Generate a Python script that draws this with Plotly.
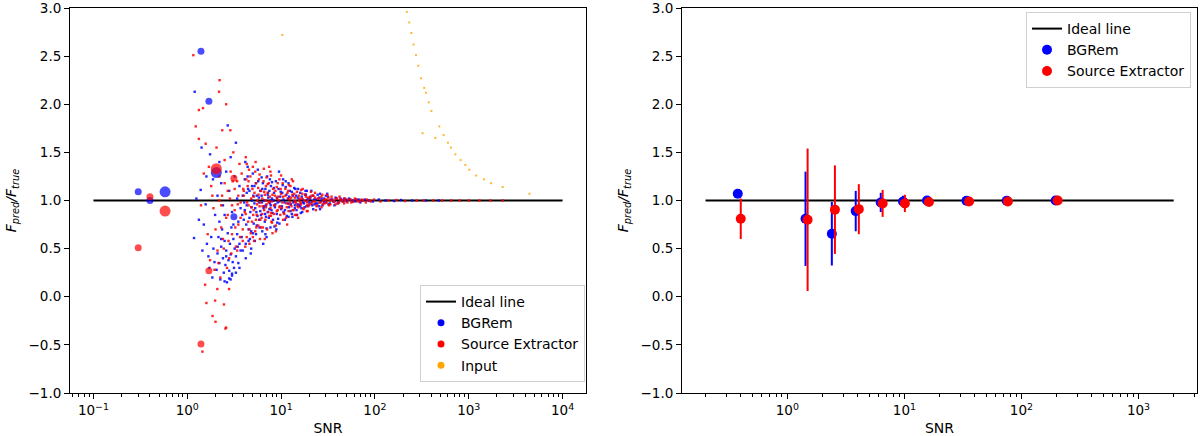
import plotly.graph_objects as go

# ---------------- data: left panel ----------------
ideal_left_x = [0.1, 10000]
ideal_left_y = [1.0, 1.0]
ideal_right_x = [0.2, 2000]
ideal_right_y = [1.0, 1.0]

# individual sources, BGRem
bg_snr = [1.2, 1.18, 1.33, 1.39, 1.57, 1.25, 1.45, 1.5, 1.62, 1.68, 1.72, 1.8, 1.85, 1.9, 1.95, 1.75, 1.88, 1.98, 1.6, 1.42,
          2.05, 2.1, 2.15, 2.2, 2.25, 2.3, 2.35, 2.4, 2.45, 2.5, 2.55, 2.6, 2.65, 2.7, 2.75, 2.8, 2.85, 2.9, 2.95, 3.0,
          3.05, 3.1, 3.15, 3.2, 3.3, 3.4, 3.5, 3.6, 3.7, 2.2, 2.5, 2.8, 3.0,
          2.1, 2.3, 2.4, 2.6, 2.8, 3.0, 3.2, 3.4, 2.2, 2.9, 2.7, 3.3, 2.5, 3.5, 3.6, 3.7,
          3.8, 3.9, 4.0, 4.1, 4.2, 4.3, 4.4, 4.5, 4.6, 4.7, 4.8, 4.9, 5.0, 5.1, 5.2, 5.3, 5.4, 5.5, 5.6, 5.7, 5.8, 5.9, 6.0,
          3.85, 4.05, 4.25, 4.45, 4.65, 4.85, 5.05, 5.25, 5.45, 5.65, 5.85, 4.15, 4.75,
          6.1, 6.2, 6.3, 6.4, 6.5, 6.6, 6.7, 6.8, 6.9, 7.0, 7.1, 7.2, 7.3, 7.4, 7.5, 7.6, 7.7, 7.8, 7.9, 8.0,
          8.2, 8.4, 8.6, 8.8, 9.0, 9.2, 9.4, 9.6, 9.8, 10.0, 6.25, 6.75, 7.25, 7.75, 8.3, 8.9, 9.5, 6.45,
          10.3, 10.6, 10.9, 11.2, 11.5, 11.8, 12.1, 12.4, 12.7, 13.0, 13.4, 13.8, 14.2, 14.6, 15.0, 15.5, 16.0, 16.5,
          17.0, 17.5, 18.0, 18.6, 19.2, 19.8, 10.5, 11.0, 12.0, 13.2, 14.0, 15.2, 16.8, 18.2,
          20.5, 21.5, 22.5, 23.5, 24.5, 25.5, 27, 28.5, 30, 32, 34, 36, 38, 40, 43, 46, 49, 21, 26, 31, 37,
          53, 58, 63, 70, 78, 86, 95, 110, 130, 160, 190, 250, 350, 480]
bg_ratio = [2.13, 0.61, 0.80, 1.11, 0.96, 1.02, 0.48, 0.75, 0.55, 0.42, 0.30, 0.62, 0.20, 0.50, 0.36, 1.48, 1.22, 0.85, 1.25, 1.55,
            0.28, 0.45, 0.62, 0.35, 0.18, 0.52, 0.70, 0.40, 0.25, 0.58, 0.33, 0.48, 0.15, 0.66, 0.38, 0.27, 0.55, 0.44, 0.72, 0.22,
            0.36, 0.60, 0.30, 0.50, 0.42, 0.65, 0.35, 0.55, 0.48, 0.78, 0.16, 0.19, 0.24,
            1.05, 1.18, 0.95, 1.30, 1.10, 0.88, 1.25, 1.02, 1.40, 1.45, 1.78, 1.60, 0.85, 0.78, 1.15, 0.92,
            0.62, 1.05, 0.80, 1.22, 0.55, 0.95, 1.35, 0.70, 1.10, 0.88, 0.50, 1.00, 1.28, 0.76, 1.15, 0.92, 0.65, 1.05, 0.84, 1.20, 0.98, 0.72, 1.10,
            0.85, 0.98, 0.75, 1.12, 0.60, 0.93, 1.05, 0.58, 0.88, 1.32, 0.80, 1.40, 0.45,
            0.85, 1.05, 0.68, 1.18, 0.92, 1.00, 0.78, 1.12, 0.95, 0.62, 1.25, 0.88, 1.03, 0.82, 1.10, 0.97, 0.72, 1.15, 0.90, 1.02,
            0.80, 1.08, 0.93, 1.20, 0.86, 0.98, 1.12, 0.76, 1.04, 0.91, 0.98, 0.86, 1.08, 0.95, 1.00, 0.70, 1.30, 0.55,
            1.08, 0.88, 0.98, 1.14, 0.84, 1.02, 0.93, 1.10, 0.96, 0.86, 1.05, 0.99, 1.12, 0.90, 1.03, 0.95, 1.08, 0.92,
            1.01, 0.97, 1.06, 0.94, 1.02, 0.98, 1.22, 0.80, 1.18, 0.83, 0.95, 1.12, 0.88, 1.10,
            1.04, 0.95, 1.01, 0.97, 1.06, 0.94, 1.02, 0.98, 1.05, 0.96, 1.01, 0.99, 1.03, 0.97, 1.02, 0.99, 1.01, 1.10, 0.91, 1.07, 0.95,
            1.02, 0.99, 1.01, 0.98, 1.01, 1.00, 0.99, 1.01, 1.00, 0.995, 1.005, 1.0, 1.0, 1.0]

# extra BGRem sources in the dense core
bg_core_snr = [4.1, 4.3, 4.6, 4.9, 5.2, 5.5, 5.8, 6.0, 6.3, 6.6, 6.9, 7.2, 7.5, 7.8, 8.1, 8.4, 8.7, 9.0, 9.3, 9.6, 9.9,
               10.2, 10.6, 11.0, 11.4, 11.8, 12.2, 12.6, 13.0, 13.5, 14.0, 14.5, 15.0, 15.5, 16.0, 16.6, 17.2, 17.8, 18.4, 19.0, 19.7,
               20.4, 21.1, 21.9, 22.7, 23.6, 24.5, 25.5, 26.5, 27.6, 28.7, 30, 31.5, 33, 35, 37, 39, 41, 44, 47, 50, 54, 58, 62, 67, 73,
               5.0, 6.2, 7.0, 8.0, 9.1, 10.4, 12.0, 13.8, 16.2, 18.8, 22.0, 26.0,
               4.4, 4.8, 5.4, 6.8, 7.6, 8.5, 11.2, 14.8, 3.9, 4.2, 4.5, 3.6, 3.3, 2.9, 2.6, 2.3, 3.1, 3.45]
bg_core_ratio = [0.90, 1.08, 0.82, 1.15, 0.97, 0.74, 1.03, 0.89, 1.12, 0.94, 0.83, 1.06, 0.91, 1.00, 0.87, 1.13, 0.96, 1.03, 0.81, 0.99, 1.09,
                 0.94, 1.01, 0.90, 1.06, 0.97, 1.04, 0.89, 1.09, 0.98, 0.92, 1.05, 0.96, 1.01, 0.94, 1.04, 0.98, 0.93, 1.06, 1.00, 0.95,
                 1.02, 0.98, 1.05, 0.96, 1.01, 0.97, 1.03, 0.99, 0.95, 1.02, 0.98, 1.04, 0.97, 1.01, 0.99, 1.02, 0.98, 1.00, 1.02, 0.99, 1.01, 1.00, 0.99, 1.01, 1.00,
                 0.66, 1.24, 0.71, 1.19, 0.77, 1.16, 0.83, 1.13, 0.87, 1.10, 0.91, 1.07,
                 1.25, 0.68, 1.18, 0.65, 1.22, 0.73, 1.20, 0.85, 0.48, 0.40, 0.58, 0.30, 0.25, 0.18, 0.42, 0.60, 0.75, 0.52]

# individual sources, Source Extractor
se_snr = [1.16, 2.21, 2.18, 2.6, 1.33, 1.47, 1.23, 1.33, 1.57, 2.36, 2.88, 1.55, 1.6, 1.98, 2.46, 1.86, 2.0, 2.55, 2.09, 2.79, 1.45, 2.6,
          1.7, 1.8, 1.9, 2.0, 2.1, 2.2, 2.3, 2.4, 2.5, 2.6, 2.7, 2.8, 2.9, 3.0, 3.1, 3.2, 3.3, 3.4, 3.5, 3.6, 3.7,
          1.65, 1.75, 1.85, 1.95, 2.05, 2.15, 2.25, 2.35, 2.45, 2.65, 2.75, 2.85, 2.95, 3.05, 3.25, 3.45, 3.65, 1.5, 1.4,
          3.8, 3.9, 4.0, 4.1, 4.2, 4.3, 4.4, 4.5, 4.6, 4.7, 4.8, 4.9, 5.0, 5.1, 5.2, 5.3, 5.4, 5.5, 5.6, 5.7, 5.8, 5.9, 6.0,
          3.95, 4.15, 4.35, 4.55, 4.75, 4.95, 5.15, 5.35, 5.55, 5.75, 5.95, 4.45, 5.05, 4.25, 5.45,
          6.1, 6.2, 6.3, 6.4, 6.5, 6.6, 6.7, 6.8, 6.9, 7.0, 7.1, 7.2, 7.3, 7.4, 7.5, 7.6, 7.7, 7.8, 7.9, 8.0,
          8.2, 8.4, 8.6, 8.8, 9.0, 9.2, 9.4, 9.6, 9.8, 10.0, 6.35, 6.85, 7.35, 7.85, 8.5, 9.1, 9.7, 6.55, 8.1, 7.45,
          10.2, 10.5, 10.8, 11.1, 11.4, 11.7, 12.0, 12.3, 12.6, 12.9, 13.2, 13.6, 14.0, 14.4, 14.8, 15.3, 15.8, 16.3,
          16.8, 17.3, 17.8, 18.4, 19.0, 19.6, 10.4, 11.3, 12.5, 13.4, 14.6, 15.6, 17.0, 18.8, 11.9, 13.9, 16.1, 19.3,
          20.3, 21.2, 22.1, 23.0, 24.0, 25.0, 26.2, 27.5, 29, 30.5, 32.5, 34.5, 36.5, 39, 41.5, 44, 47, 20.8, 23.5, 28, 33, 38, 42, 48,
          52, 56, 61, 66, 72, 80, 88, 98, 115, 140, 170, 210, 280, 330, 420, 520, 650, 800, 1000, 1300, 1700, 2300]
se_ratio = [2.51, 2.25, 2.13, 2.00, 1.94, 1.96, 1.77, 1.64, 1.59, 1.73, 1.73, 0.125, -0.065, -0.04, -0.08, -0.20, -0.26, -0.33, 0.08, 0.08, -0.57, -0.32,
            1.35, 1.15, 0.92, 0.70, 0.48, 1.25, 0.95, 0.60, 1.42, 0.82, 1.10, 0.40, 1.30, 0.65, 1.50, 0.90, 0.52, 1.20, 0.75, 1.38, 0.98,
            0.65, 0.38, 1.05, 0.28, 1.55, 0.35, 0.20, 1.05, 0.50, 0.30, 0.58, 1.02, 0.45, 1.20, 0.72, 0.96, 0.62, 1.28, 0.95,
            1.28, 0.70, 1.05, 0.88, 1.45, 0.62, 1.15, 0.95, 0.55, 1.25, 1.02, 0.78, 1.35, 0.90, 1.08, 0.68, 1.18, 0.85, 1.00, 0.74, 1.22, 0.94, 0.80,
            1.12, 0.52, 0.98, 1.32, 0.66, 1.12, 0.58, 1.40, 0.96, 1.06, 0.60, 0.78, 0.85, 1.22, 0.72,
            1.10, 0.82, 1.02, 0.72, 1.20, 0.90, 1.06, 0.80, 1.15, 0.96, 0.70, 1.08, 0.88, 1.18, 0.84, 1.04, 0.92, 1.26, 0.78, 0.99,
            1.12, 0.86, 1.05, 0.74, 1.14, 0.90, 1.00, 1.22, 0.85, 1.07, 0.94, 1.00, 0.98, 0.87, 0.95, 1.02, 0.94, 1.33, 0.66, 1.35,
            0.92, 1.04, 0.86, 1.12, 0.97, 1.08, 0.89, 1.01, 1.15, 0.94, 1.06, 0.90, 1.03, 0.97, 1.09, 0.93, 1.02, 0.96,
            1.07, 0.91, 1.00, 1.04, 0.95, 1.03, 1.18, 0.82, 0.98, 1.20, 0.85, 1.00, 1.12, 0.89, 1.02, 0.99, 0.98, 1.00,
            0.96, 1.05, 0.99, 1.03, 0.94, 1.02, 0.98, 1.06, 0.97, 1.01, 0.95, 1.04, 0.99, 1.02, 0.98, 1.01, 0.97, 1.09, 0.90, 1.00, 1.00, 0.96, 1.04, 1.00,
            1.01, 0.98, 1.02, 0.99, 1.01, 0.98, 1.00, 1.01, 0.99, 1.00, 1.005, 0.995, 1.0, 1.0, 1.0, 1.0, 1.0, 1.0, 1.0, 1.0, 1.0, 1.0]

# extra Source Extractor sources in the dense core
se_core_snr = [4.0, 4.2, 4.5, 4.8, 5.1, 5.4, 5.7, 6.0, 6.3, 6.6, 6.9, 7.2, 7.5, 7.8, 8.1, 8.4, 8.7, 9.0, 9.3, 9.6, 9.9,
               10.3, 10.7, 11.1, 11.5, 11.9, 12.3, 12.8, 13.3, 13.8, 14.3, 14.9, 15.5, 16.1, 16.7, 17.4, 18.1, 18.8, 19.5,
               20.3, 21.1, 22.0, 22.9, 23.8, 24.8, 25.8, 26.9, 28.0, 29.3, 30.6, 32, 33.5, 35, 36.7, 38.5, 40.5, 42.5, 45, 48,
               51, 55, 59, 64, 69, 75, 82, 90,
               4.6, 5.3, 6.1, 7.0, 8.0, 9.2, 10.5, 12.1, 14.0, 16.4, 19.2, 23.0, 27.0, 31.0,
               4.3, 5.0, 5.9, 6.7, 7.7, 8.8, 10.0, 11.6, 13.0, 15.2, 3.9, 3.5, 3.2, 3.0, 2.7, 2.5, 2.3, 2.2, 3.4, 3.7]
se_core_ratio = [1.10, 0.86, 1.20, 0.93, 1.04, 0.80, 1.13, 0.98, 0.86, 1.09, 0.93, 1.17, 0.99, 0.84, 1.06, 0.95, 1.10, 0.89, 1.04, 0.93, 1.12,
                 0.98, 0.87, 1.05, 0.93, 1.10, 0.96, 1.03, 0.90, 1.07, 0.99, 0.94, 1.05, 0.97, 1.02, 0.92, 1.06, 0.98, 0.94,
                 1.03, 0.97, 1.05, 0.99, 0.95, 1.02, 0.98, 1.04, 0.96, 1.01, 0.98, 1.03, 0.96, 1.01, 0.99, 1.02, 0.97, 1.01, 0.99, 1.02,
                 0.98, 1.01, 0.99, 1.01, 0.99, 1.00, 1.01, 0.99,
                 0.70, 1.30, 0.72, 1.24, 0.77, 1.18, 0.80, 1.16, 0.85, 1.11, 0.89, 1.08, 0.93, 1.06,
                 1.38, 0.62, 1.27, 0.60, 1.30, 0.68, 1.26, 0.75, 1.22, 0.82, 0.58, 1.05, 1.12, 0.95, 0.85, 1.18, 0.72, 1.00, 0.48, 0.82]

# binned (large) markers on the left panel
bg_bin_snr = [0.30, 0.40, 0.58, 1.40, 1.70, 2.04, 3.14]
bg_bin_ratio = [1.09, 1.00, 1.09, 2.55, 2.03, 1.29, 0.83]
bg_bin_size = [7, 7, 11, 7, 7, 11, 7]
se_bin_snr = [0.30, 0.40, 0.58, 1.40, 1.70, 2.04, 3.14]
se_bin_ratio = [0.51, 1.04, 0.89, -0.49, 0.27, 1.33, 1.23]
se_bin_size = [7, 7, 11, 7, 7, 11, 7]

# input
in_snr = [10.3, 219, 232, 245, 258, 274, 290, 310, 322, 335, 350, 375, 400, 440, 486, 540, 600, 647, 720, 820, 920, 1014, 1200, 1450, 1730, 2300, 4440]
in_ratio = [2.72, 2.96, 2.85, 2.74, 2.62, 2.51, 2.40, 2.27, 1.70, 2.17, 2.12, 2.02, 1.93, 1.65, 1.77, 1.68, 1.60, 1.55, 1.48, 1.42, 1.37, 1.32, 1.26, 1.22, 1.18, 1.14, 1.07]

# ---------------- data: right panel ----------------
bg_mean_snr = [0.377, 1.43, 2.40, 3.84, 6.28, 9.73, 15.6, 33.9, 74.8, 196]
bg_mean_ratio = [1.07, 0.81, 0.655, 0.89, 0.98, 0.99, 1.00, 0.997, 0.997, 1.00]
bg_mean_err = [0.0, 0.49, 0.33, 0.21, 0.10, 0.06, 0.02, 0.01, 0.01, 0.005]
se_mean_snr = [0.40, 1.49, 2.55, 4.08, 6.52, 10.1, 16.2, 35.7, 76.6, 204]
se_mean_ratio = [0.81, 0.80, 0.905, 0.91, 0.97, 0.97, 0.985, 0.99, 0.99, 1.00]
se_mean_err = [0.21, 0.74, 0.46, 0.26, 0.14, 0.09, 0.03, 0.015, 0.01, 0.005]

x_tick_vals_left = [0.1, 1, 10, 100, 1000, 10000]
x_tick_text_left = ["10<sup>−1</sup>", "10<sup>0</sup>", "10<sup>1</sup>", "10<sup>2</sup>", "10<sup>3</sup>", "10<sup>4</sup>"]
x_tick_vals_right = [1, 10, 100, 1000]
x_tick_text_right = ["10<sup>0</sup>", "10<sup>1</sup>", "10<sup>2</sup>", "10<sup>3</sup>"]
y_tick_vals = [-1.0, -0.5, 0.0, 0.5, 1.0, 1.5, 2.0, 2.5, 3.0]
y_tick_text = ["−1.0", "−0.5", "0.0", "0.5", "1.0", "1.5", "2.0", "2.5", "3.0"]

BLUE = "#0000ff"
RED = "#ff0000"
ORANGE = "#ffa500"
FONT = "DejaVu Sans"

fig = go.Figure()

# ---- left panel ----
fig.add_trace(go.Scatter(x=ideal_left_x, y=ideal_left_y, mode="lines", name="Ideal line",
                         line=dict(color="black", width=2), xaxis="x", yaxis="y", legend="legend"))
fig.add_trace(go.Scatter(x=bg_snr + bg_core_snr, y=bg_ratio + bg_core_ratio, mode="markers", showlegend=False,
                         marker=dict(color=BLUE, size=2.4, symbol="square", opacity=0.85, line=dict(width=0)),
                         xaxis="x", yaxis="y"))
fig.add_trace(go.Scatter(x=se_snr + se_core_snr, y=se_ratio + se_core_ratio, mode="markers", showlegend=False,
                         marker=dict(color=RED, size=2.4, symbol="square", opacity=0.85, line=dict(width=0)),
                         xaxis="x", yaxis="y"))
fig.add_trace(go.Scatter(x=in_snr, y=in_ratio, mode="markers", showlegend=False,
                         marker=dict(color=ORANGE, size=2.0, symbol="square", opacity=0.8, line=dict(width=0)),
                         xaxis="x", yaxis="y"))
fig.add_trace(go.Scatter(x=bg_bin_snr, y=bg_bin_ratio, mode="markers", showlegend=False,
                         marker=dict(color=BLUE, size=bg_bin_size, line=dict(width=0)), xaxis="x", yaxis="y"))
fig.add_trace(go.Scatter(x=se_bin_snr, y=se_bin_ratio, mode="markers", showlegend=False,
                         marker=dict(color=RED, size=se_bin_size, line=dict(width=0)), xaxis="x", yaxis="y"))
# legend entries (left)
for nm, col in [("BGRem", BLUE), ("Source Extractor", RED), ("Input", ORANGE)]:
    fig.add_trace(go.Scatter(x=[None], y=[None], mode="markers", name=nm,
                             marker=dict(color=col, size=7), xaxis="x", yaxis="y", legend="legend"))

# ---- right panel ----
fig.add_trace(go.Scatter(x=ideal_right_x, y=ideal_right_y, mode="lines", name="Ideal line",
                         line=dict(color="black", width=2), xaxis="x2", yaxis="y2", legend="legend2"))
fig.add_trace(go.Scatter(x=bg_mean_snr, y=bg_mean_ratio, mode="markers", name="BGRem",
                         marker=dict(color=BLUE, size=10, line=dict(width=0)),
                         error_y=dict(type="data", array=bg_mean_err, color=BLUE, thickness=2, width=0),
                         xaxis="x2", yaxis="y2", legend="legend2"))
fig.add_trace(go.Scatter(x=se_mean_snr, y=se_mean_ratio, mode="markers", name="Source Extractor",
                         marker=dict(color=RED, size=10, line=dict(width=0)),
                         error_y=dict(type="data", array=se_mean_err, color=RED, thickness=2, width=0),
                         xaxis="x2", yaxis="y2", legend="legend2"))

axis_common = dict(showline=True, linecolor="black", linewidth=1, mirror=True, ticks="outside",
                   ticklen=5, tickwidth=1, tickcolor="black", showgrid=False, zeroline=False,
                   tickfont=dict(family=FONT, size=13.5, color="black"), automargin=False,
                   ticklabeloverflow="allow")

minor_left = [m * 10.0 ** e for e in range(-2, 5) for m in range(2, 10)]
minor_left = [v for v in minor_left if 0.055 < v < 17700]
minor_right = [m * 10.0 ** e for e in range(-1, 4) for m in range(2, 10)]
minor_right = [v for v in minor_right if 0.125 < v < 3150]

TOP = 8
BOTTOM = 436 - TOP - 385
fig.update_layout(
    width=1200, height=436,
    margin=dict(l=0, r=0, t=TOP, b=BOTTOM),
    paper_bgcolor="white", plot_bgcolor="white",
    font=dict(family=FONT, size=14, color="black"),
    xaxis=dict(domain=[70 / 1200, 586 / 1200], type="log", range=[-1.25, 4.25], anchor="y",
               tickmode="array", tickvals=x_tick_vals_left, ticktext=x_tick_text_left,
               minor=dict(tickmode="array", tickvals=minor_left, ticks="outside", ticklen=3, tickcolor="black"),
               title=dict(text="SNR", font=dict(family=FONT, size=14), standoff=6), **axis_common),
    yaxis=dict(domain=[0, 1], range=[-1, 3], anchor="x", tickmode="array",
               tickvals=y_tick_vals, ticktext=y_tick_text,
               title=dict(text="<i>F<sub>pred</sub>/F<sub>true</sub></i>", font=dict(family=FONT, size=14), standoff=8),
               **axis_common),
    xaxis2=dict(domain=[682 / 1200, 1197 / 1200], type="log", range=[-0.9, 3.5], anchor="y2",
                tickmode="array", tickvals=x_tick_vals_right, ticktext=x_tick_text_right,
                minor=dict(tickmode="array", tickvals=minor_right, ticks="outside", ticklen=3, tickcolor="black"),
                title=dict(text="SNR", font=dict(family=FONT, size=14), standoff=6), **axis_common),
    yaxis2=dict(domain=[0, 1], range=[-1, 3], anchor="x2", tickmode="array",
                tickvals=y_tick_vals, ticktext=y_tick_text,
                title=dict(text="<i>F<sub>pred</sub>/F<sub>true</sub></i>", font=dict(family=FONT, size=14), standoff=8),
                **axis_common),
    legend=dict(x=585 / 1200, y=(385 + TOP - 382) / 385, xanchor="right", yanchor="bottom", xref="paper", yref="paper",
                bgcolor="white", bordercolor="#d0d0d0", borderwidth=1, font=dict(family=FONT, size=14),
                traceorder="normal"),
    legend2=dict(x=1191 / 1200, y=(385 + TOP - 12) / 385, xanchor="right", yanchor="top", xref="paper", yref="paper",
                 bgcolor="white", bordercolor="#d0d0d0", borderwidth=1, font=dict(family=FONT, size=14),
                 traceorder="normal"),
)

fig.write_html("out.html")
